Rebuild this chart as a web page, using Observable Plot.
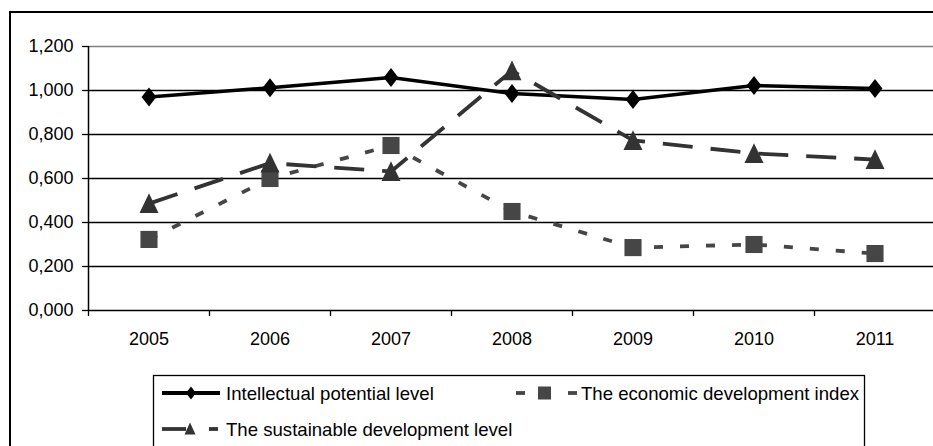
<!DOCTYPE html>
<html>
<head>
<meta charset="utf-8">
<script src="https://cdn.jsdelivr.net/npm/d3@7"></script>
<script src="https://cdn.jsdelivr.net/npm/@observablehq/plot@0.6"></script>
<style>
  html, body { margin: 0; padding: 0; background: #fff; overflow: hidden; width: 933px; height: 446px; }
  #wrap { position: relative; width: 933px; height: 446px; font-family: "Liberation Sans", Arial, sans-serif; }
  #frame { position: absolute; left: 9px; top: 11px; width: 1200px; height: 1200px; border-left: 2px solid #000; border-top: 2px solid #000; }
  #chart { position: absolute; left: 0; top: 0; }
  #legend { position: absolute; left: 0; top: 0; }
</style>
</head>
<body>
<div id="wrap">
  <div id="frame"></div>
  <div id="chart"></div>
  <svg id="legend" width="933" height="446"></svg>
</div>
<script>
// ---- data ----
const years = [2005, 2006, 2007, 2008, 2009, 2010, 2011];
const intellectual = [0.970, 1.013, 1.059, 0.986, 0.959, 1.023, 1.009];
const economic = [0.323, 0.600, 0.750, 0.450, 0.286, 0.300, 0.259];
const sustainable = [0.486, 0.670, 0.632, 1.090, 0.773, 0.714, 0.686];
const yTicks = [0, 0.2, 0.4, 0.6, 0.8, 1.0, 1.2];
const seriesNames = ["Intellectual potential level", "The economic development index", "The sustainable development level"];

const boundaries = years.map(y => y - 0.5).concat([years[years.length - 1] + 0.5]);
const rows = (vals) => years.map((yr, i) => ({year: yr, value: vals[i]}));

const fmt = d3.formatLocale({decimal: ",", thousands: ".", grouping: [3], currency: ["", ""]}).format(".3f");

// custom symbols
const diamond = {draw(ctx, size) { const r = Math.sqrt(size / Math.PI); const w = r * 0.78; ctx.moveTo(0, -r); ctx.lineTo(w, 0); ctx.lineTo(0, r); ctx.lineTo(-w, 0); ctx.closePath(); }};
const square = {draw(ctx, size) { const r = Math.sqrt(size / Math.PI) * 0.95; ctx.rect(-r, -r, 2 * r, 2 * r); }};
const triangle = {draw(ctx, size) { const r = Math.sqrt(size / Math.PI); ctx.moveTo(0, -r * 1.08); ctx.lineTo(r, r * 1.0); ctx.lineTo(-r, r * 1.0); ctx.closePath(); }};

const C_INT = "#000000", C_ECO = "#464646", C_SUS = "#333333";

const chart = Plot.plot({
  width: 933,
  height: 446,
  marginLeft: 88,
  marginRight: 0,
  marginTop: 46,
  marginBottom: 136,
  style: {fontFamily: '"Liberation Sans", Arial, sans-serif', fontSize: "18px", color: "#000", background: "transparent", overflow: "visible"},
  x: {type: "linear", domain: [boundaries[0], boundaries[boundaries.length - 1]], range: [88, 935], label: null},
  y: {domain: [0, 1.2], range: [310, 46], label: null},
  marks: [
    Plot.gridY(yTicks.filter(t => t > 0 && t < 1.2), {stroke: "#000", strokeOpacity: 1, strokeWidth: 1.3}),
    Plot.gridY([yTicks[yTicks.length - 1]], {stroke: "#808080", strokeOpacity: 1, strokeWidth: 1.5}),
    Plot.ruleY([0], {stroke: "#000", strokeWidth: 1.5}),
    Plot.ruleX([boundaries[0]], {y1: yTicks[0], y2: yTicks[yTicks.length - 1], stroke: "#000", strokeWidth: 1.5}),
    Plot.axisY({ticks: yTicks, tickSize: 6, tickPadding: 9, tickFormat: fmt, fontSize: 18, stroke: "#000", strokeWidth: 1.3, label: null}),
    Plot.axisX({ticks: boundaries, tickSize: 6, tickFormat: () => "", stroke: "#000", strokeWidth: 1.3, label: null}),
    Plot.axisX({ticks: years, tickSize: 0, tickPadding: 22, tickFormat: d => String(d), fontSize: 18, label: null}),
    Plot.line(rows(intellectual), {x: "year", y: "value", stroke: C_INT, strokeWidth: 3.5}),
    Plot.dot(rows(intellectual), {x: "year", y: "value", symbol: diamond, r: 9.5, fill: C_INT, stroke: "none"}),
    Plot.line(rows(economic), {x: "year", y: "value", stroke: C_ECO, strokeWidth: 3.8, strokeDasharray: "9,17", strokeLinecap: "butt"}),
    Plot.dot(rows(economic), {x: "year", y: "value", symbol: square, r: 9, fill: C_ECO, stroke: "none"}),
    Plot.line(rows(sustainable), {x: "year", y: "value", stroke: C_SUS, strokeWidth: 3.8, strokeDasharray: "30,18", strokeLinecap: "butt"}),
    Plot.dot(rows(sustainable), {x: "year", y: "value", symbol: triangle, r: 9.5, fill: C_SUS, stroke: "none"})
  ]
});
document.getElementById("chart").appendChild(chart);

// ---- legend ----
const lg = d3.select("#legend");
lg.append("rect").attr("x", 153.5).attr("y", 375.5).attr("width", 711).attr("height", 90)
  .attr("fill", "#fff").attr("stroke", "#000").attr("stroke-width", 1.3);
const tfont = '"Liberation Sans", Arial, sans-serif';
function label(x, y, t) {
  lg.append("text").attr("x", x).attr("y", y).attr("dy", "0.35em").attr("font-family", tfont)
    .attr("font-size", 18.6).attr("fill", "#000").text(t);
}
function seg(x1, x2, y, c) {
  lg.append("line").attr("x1", x1).attr("x2", x2).attr("y1", y).attr("y2", y).attr("stroke", c).attr("stroke-width", 3.8);
}
// row 1, item 1
seg(162, 220, 393, C_INT);
lg.append("path").attr("transform", "translate(191,393)").attr("d", "M0,-6.5L5,0L0,6.5L-5,0Z").attr("fill", C_INT);
label(226, 393, seriesNames[0]);
// row 1, item 2
seg(516, 525, 393, C_ECO);
lg.append("rect").attr("x", 538).attr("y", 386.5).attr("width", 13).attr("height", 13).attr("fill", C_ECO);
seg(568, 577, 393, C_ECO);
label(581, 393, seriesNames[1]);
// row 2
seg(162, 186, 429, C_SUS);
lg.append("path").attr("transform", "translate(190,429)").attr("d", "M0,-6.5L5.5,5.5L-5.5,5.5Z").attr("fill", C_SUS);
seg(209, 218, 429, C_SUS);
label(226, 429, seriesNames[2]);
</script>
</body>
</html>
